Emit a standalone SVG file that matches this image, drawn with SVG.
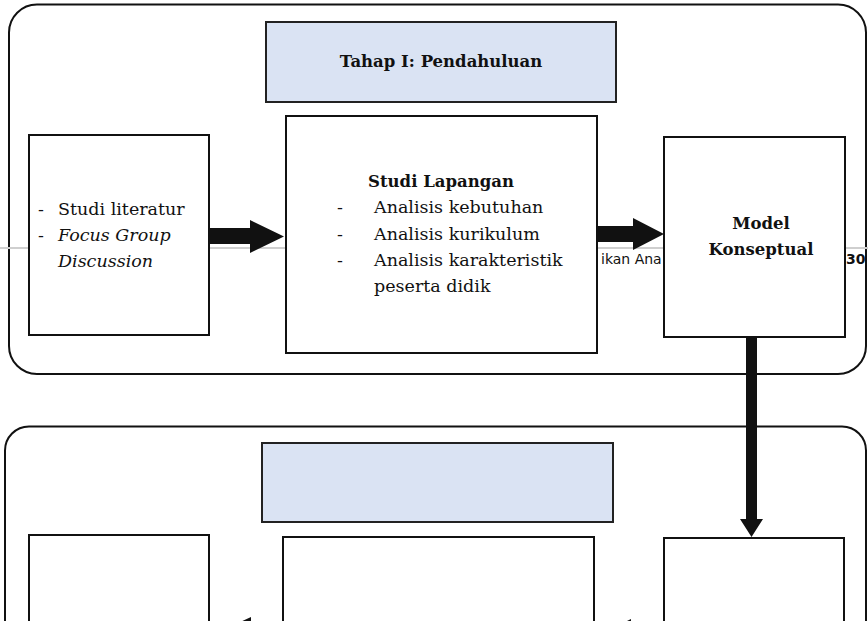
<svg xmlns="http://www.w3.org/2000/svg" width="868" height="621" viewBox="0 0 868 621">
  <style>
    .stage { fill: none; stroke: #111; stroke-width: 2; }
    .title-box { fill: #dae3f3; stroke: #222; stroke-width: 2; }
    .box { fill: #fff; stroke: #111; stroke-width: 2; }
    .txt { font-family: "DejaVu Serif", "Liberation Serif", serif; font-size: 17.5px; fill: #111; }
    .bold { font-weight: bold; font-size: 16.5px; }
    .ital { font-style: italic; }
    .hdr { font-family: "DejaVu Sans", "Liberation Sans", sans-serif; font-size: 14px; fill: #111; }
    .arrow { fill: #111; stroke: none; }
    .rule { stroke: #cfcfcf; stroke-width: 2; }
  </style>

  <!-- stage containers -->
  <g id="stage-1">
    <rect class="stage" x="9" y="4.5" width="857" height="369.5" rx="28" ry="28"/>
  </g>
  <g id="stage-2">
    <rect class="stage" x="5" y="426.5" width="861" height="320" rx="24" ry="24"/>
  </g>

  <!-- running header of the page -->
  <g id="page-header">
    <line class="rule" x1="0" y1="248" x2="868" y2="248"/>
    <text class="hdr" x="601" y="264">ikan Ana</text>
    <text class="hdr" x="846" y="264" font-weight="bold">30</text>
  </g>

  <g id="title-1">
    <rect class="title-box" x="266" y="22" width="350" height="80"/>
    <text class="txt bold" x="441" y="67" text-anchor="middle">Tahap I: Pendahuluan</text>
  </g>

  <g id="studi-literatur">
    <rect class="box" x="29" y="135" width="180" height="200"/>
    <text class="txt" x="38" y="215">-</text>
    <text class="txt" x="58" y="215">Studi literatur</text>
    <text class="txt" x="38" y="241">-</text>
    <text class="txt ital" x="58" y="241">Focus Group</text>
    <text class="txt ital" x="58" y="267">Discussion</text>
  </g>

  <g id="studi-lapangan">
    <rect class="box" x="286" y="116" width="311" height="237"/>
    <text class="txt bold" x="441" y="187" text-anchor="middle">Studi Lapangan</text>
    <text class="txt" x="337" y="213">-</text>
    <text class="txt" x="374" y="213">Analisis kebutuhan</text>
    <text class="txt" x="337" y="240">-</text>
    <text class="txt" x="374" y="240">Analisis kurikulum</text>
    <text class="txt" x="337" y="266">-</text>
    <text class="txt" x="374" y="266">Analisis karakteristik</text>
    <text class="txt" x="374" y="292">peserta didik</text>
  </g>

  <g id="model-konseptual">
    <rect class="box" x="664" y="137" width="181" height="200"/>
    <text class="txt bold" x="761" y="229" text-anchor="middle">Model</text>
    <text class="txt bold" x="761" y="255" text-anchor="middle">Konseptual</text>
  </g>

  <g id="title-2">
    <rect class="title-box" x="262" y="443" width="351" height="79"/>
  </g>

  <g id="stage-2-left">
    <rect class="box" x="29" y="535" width="180" height="200"/>
  </g>
  <g id="stage-2-middle">
    <rect class="box" x="283" y="537" width="311" height="200"/>
  </g>
  <g id="stage-2-right">
    <rect class="box" x="664" y="538" width="180" height="200"/>
  </g>

  <!-- connectors -->
  <g id="connectors">
    <polygon class="arrow" points="209,228 250,228 250,220 284,236.5 250,253 250,244 209,244"/>
    <polygon class="arrow" points="597,226 633,226 633,218 664,234 633,250 633,242 597,242"/>
    <polygon class="arrow" points="746,337 757,337 757,519 763,519 751.5,537 740,519 746,519"/>
    <polygon class="arrow" points="283,629 251,629 251,617 210,636 251,655 251,643 283,643"/>
    <polygon class="arrow" points="664,631 631,631 631,619 595,637 631,655 631,643 664,643"/>
  </g>
</svg>
